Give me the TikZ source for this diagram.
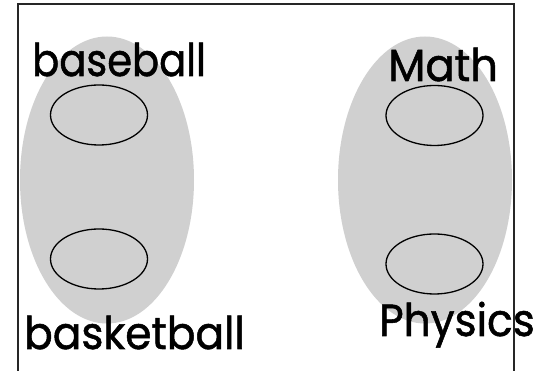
\documentclass[tikz,border=0pt]{standalone}
\usepackage{fontspec}
\setmainfont{Poppins}[FakeBold=1.2]
\usetikzlibrary{shapes.geometric}
\definecolor{blobgray}{RGB}{208,208,208}
\begin{document}
\begin{tikzpicture}[x=1pt,y=-1pt,
  blob/.style={ellipse, fill=blobgray, draw=none, inner sep=0pt, minimum width=174pt, minimum height=287pt},
  member/.style={ellipse, fill=blobgray, draw=black, line width=1.3pt, inner sep=0pt, minimum width=97pt, minimum height=60pt},
  lbl/.style={anchor=base west, inner sep=0pt, font=\fontsize{45}{50}\selectfont},
  frame/.style={draw=black!85, line width=1.8pt}]
\useasboundingbox (0,0) rectangle (550,371);
\clip (0,0) rectangle (550,371);
\fill[white] (0,0) rectangle (550,371);
\node[blob] (leftset) at (107,180) {};
\node[blob] (rightset) at (425,180) {};
\node[member] (a1) at (99,115) {};
\node[member] (a2) at (99,259) {};
\node[member] (b1) at (434.5,115.5) {};
\node[member] (b2) at (434.5,264) {};
\node[lbl] (base) at (32,76) {\scalebox{0.89}[1]{baseball}};
\node[lbl] (math) at (388,81) {\scalebox{0.96}[1]{Math}};
\node[lbl] (bask) at (24,349) {\scalebox{0.94}[1]{basketball}};
\node[lbl] (phys) at (379,336) {\scalebox{0.94}[1]{Physics}};
\coordinate (bl) at (18,380);
\coordinate (tl) at (18,4);
\coordinate (tr) at (514,4);
\coordinate (br) at (514,380);
\draw[frame] (bl) -- (tl) -- (tr) -- (br);
\end{tikzpicture}
\end{document}
